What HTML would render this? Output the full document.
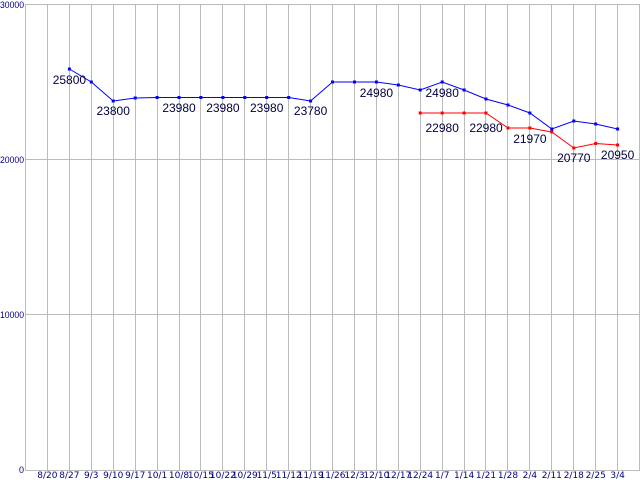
<!DOCTYPE html>
<html><head><meta charset="utf-8"><style>
html,body{margin:0;padding:0;background:#fff;width:640px;height:480px;overflow:hidden}
svg{display:block}
.ax{font-family:"DejaVu Sans","Liberation Sans",sans-serif;font-size:9px;fill:#000080}
.ay{font-family:"Liberation Sans",sans-serif;font-size:9px;fill:#000080}
.lb{font-family:"Liberation Sans",sans-serif;font-size:12px;fill:#000040}
</style></head><body>
<svg width="640" height="480" xmlns="http://www.w3.org/2000/svg">
<g stroke="#bbb" stroke-width="1">
<line x1="25.5" y1="4.5" x2="640" y2="4.5"/>
<line x1="25.5" y1="159.5" x2="640" y2="159.5"/>
<line x1="25.5" y1="314.5" x2="640" y2="314.5"/>
<line x1="25.5" y1="470.5" x2="640" y2="470.5"/>
<line x1="25.5" y1="4" x2="25.5" y2="471"/><line x1="47.5" y1="4" x2="47.5" y2="471"/><line x1="69.5" y1="4" x2="69.5" y2="471"/><line x1="91.5" y1="4" x2="91.5" y2="471"/><line x1="113.5" y1="4" x2="113.5" y2="471"/><line x1="135.5" y1="4" x2="135.5" y2="471"/><line x1="157.5" y1="4" x2="157.5" y2="471"/><line x1="179.5" y1="4" x2="179.5" y2="471"/><line x1="200.5" y1="4" x2="200.5" y2="471"/><line x1="222.5" y1="4" x2="222.5" y2="471"/><line x1="244.5" y1="4" x2="244.5" y2="471"/><line x1="266.5" y1="4" x2="266.5" y2="471"/><line x1="288.5" y1="4" x2="288.5" y2="471"/><line x1="310.5" y1="4" x2="310.5" y2="471"/><line x1="332.5" y1="4" x2="332.5" y2="471"/><line x1="354.5" y1="4" x2="354.5" y2="471"/><line x1="376.5" y1="4" x2="376.5" y2="471"/><line x1="398.5" y1="4" x2="398.5" y2="471"/><line x1="420.5" y1="4" x2="420.5" y2="471"/><line x1="442.5" y1="4" x2="442.5" y2="471"/><line x1="464.5" y1="4" x2="464.5" y2="471"/><line x1="485.5" y1="4" x2="485.5" y2="471"/><line x1="507.5" y1="4" x2="507.5" y2="471"/><line x1="529.5" y1="4" x2="529.5" y2="471"/><line x1="551.5" y1="4" x2="551.5" y2="471"/><line x1="573.5" y1="4" x2="573.5" y2="471"/><line x1="595.5" y1="4" x2="595.5" y2="471"/><line x1="617.5" y1="4" x2="617.5" y2="471"/><line x1="639.5" y1="4" x2="639.5" y2="471"/>
</g>
<g class="ay">
<text x="0" y="8" textLength="24" lengthAdjust="spacingAndGlyphs">30000</text><text x="0" y="163" textLength="24" lengthAdjust="spacingAndGlyphs">20000</text><text x="0" y="318" textLength="24" lengthAdjust="spacingAndGlyphs">10000</text><text x="19" y="473">0</text>
</g>
<g class="ax" text-anchor="middle">
<text x="47.4" y="478">8/20</text><text x="69.4" y="478">8/27</text><text x="91.3" y="478">9/3</text><text x="113.2" y="478">9/10</text><text x="135.2" y="478">9/17</text><text x="157.1" y="478">10/1</text><text x="179" y="478">10/8</text><text x="200.9" y="478">10/15</text><text x="222.9" y="478">10/22</text><text x="244.8" y="478">10/29</text><text x="266.7" y="478">11/5</text><text x="288.7" y="478">11/12</text><text x="310.6" y="478">11/19</text><text x="332.5" y="478">11/26</text><text x="354.5" y="478">12/3</text><text x="376.4" y="478">12/10</text><text x="398.3" y="478">12/17</text><text x="420.2" y="478">12/24</text><text x="442.2" y="478">1/7</text><text x="464.1" y="478">1/14</text><text x="486" y="478">1/21</text><text x="508" y="478">1/28</text><text x="529.9" y="478">2/4</text><text x="551.8" y="478">2/11</text><text x="573.8" y="478">2/18</text><text x="595.7" y="478">2/25</text><text x="617.6" y="478">3/4</text>
</g>
<polyline fill="none" stroke="#0000ff" stroke-width="1" points="69.4,69 91.3,82 113.2,101 135.2,98 157.1,97.5 179,97.5 200.9,97.5 222.9,97.5 244.8,97.5 266.7,97.5 288.7,97.5 310.6,101 332.5,82 354.5,82 376.4,82 398.3,85 420.2,90 442.2,82 464.1,90 486,99 508,105 529.9,113 551.8,129 573.8,121 595.7,124 617.6,129"/>
<g fill="#0000ff">
<rect x="67.9" y="67.5" width="3" height="3"/><rect x="89.8" y="80.5" width="3" height="3"/><rect x="111.7" y="99.5" width="3" height="3"/><rect x="133.7" y="96.5" width="3" height="3"/><rect x="155.6" y="96" width="3" height="3"/><rect x="177.5" y="96" width="3" height="3"/><rect x="199.4" y="96" width="3" height="3"/><rect x="221.4" y="96" width="3" height="3"/><rect x="243.3" y="96" width="3" height="3"/><rect x="265.2" y="96" width="3" height="3"/><rect x="287.2" y="96" width="3" height="3"/><rect x="309.1" y="99.5" width="3" height="3"/><rect x="331" y="80.5" width="3" height="3"/><rect x="353" y="80.5" width="3" height="3"/><rect x="374.9" y="80.5" width="3" height="3"/><rect x="396.8" y="83.5" width="3" height="3"/><rect x="418.7" y="88.5" width="3" height="3"/><rect x="440.7" y="80.5" width="3" height="3"/><rect x="462.6" y="88.5" width="3" height="3"/><rect x="484.5" y="97.5" width="3" height="3"/><rect x="506.5" y="103.5" width="3" height="3"/><rect x="528.4" y="111.5" width="3" height="3"/><rect x="550.3" y="127.5" width="3" height="3"/><rect x="572.3" y="119.5" width="3" height="3"/><rect x="594.2" y="122.5" width="3" height="3"/><rect x="616.1" y="127.5" width="3" height="3"/>
</g>
<polyline fill="none" stroke="#ff0000" stroke-width="1" points="420.2,113 442.2,113 464.1,113 486,113 508,128 529.9,128 551.8,132 573.8,148 595.7,143.5 617.6,145"/>
<g fill="#ff0000">
<rect x="418.7" y="111.5" width="3" height="3"/><rect x="440.7" y="111.5" width="3" height="3"/><rect x="462.6" y="111.5" width="3" height="3"/><rect x="484.5" y="111.5" width="3" height="3"/><rect x="506.5" y="126.5" width="3" height="3"/><rect x="528.4" y="126.5" width="3" height="3"/><rect x="550.3" y="130.5" width="3" height="3"/><rect x="572.3" y="146.5" width="3" height="3"/><rect x="594.2" y="142" width="3" height="3"/><rect x="616.1" y="143.5" width="3" height="3"/>
</g>
<g class="lb" text-anchor="middle">
<text x="69.4" y="84">25800</text><text x="113.2" y="115">23800</text><text x="179" y="112">23980</text><text x="222.9" y="112">23980</text><text x="266.7" y="112">23980</text><text x="310.6" y="115">23780</text><text x="376.4" y="97">24980</text><text x="442.2" y="97">24980</text>
<text x="442.2" y="132">22980</text><text x="486" y="132">22980</text><text x="529.9" y="143">21970</text><text x="573.8" y="162">20770</text><text x="617.6" y="159">20950</text>
</g>
</svg>
</body></html>
